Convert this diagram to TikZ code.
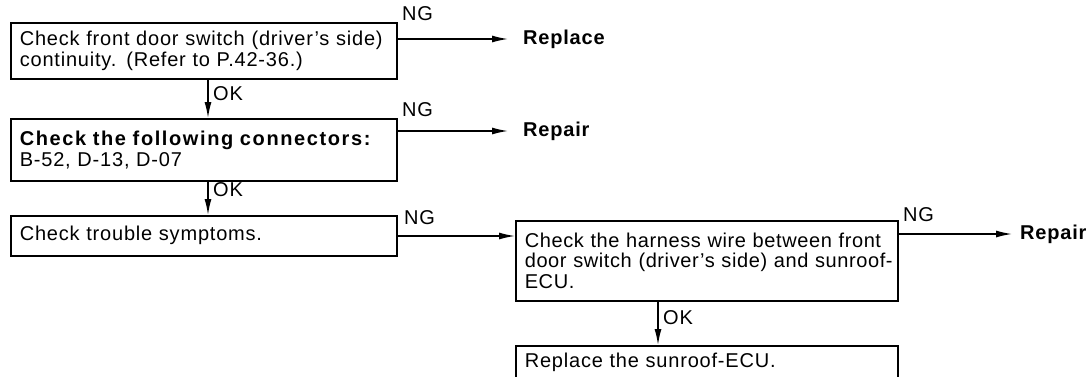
\documentclass[tikz,border=0pt]{standalone}
\usepackage{fontspec}
\setmainfont{Liberation Sans}[LetterSpace=4]
\usetikzlibrary{arrows.meta}
\begin{document}
\begin{tikzpicture}[x=1pt,y=-1pt,
  every node/.style={font=\fontsize{20}{20.5}\selectfont},
  box/.style={draw, line width=1.6pt, rectangle, anchor=north west, align=left, inner xsep=9pt, inner ysep=0pt},
  arr/.style={line width=1.4pt, -{Latex[length=16pt,width=7pt]}},
  lbl/.style={inner sep=0pt},
  res/.style={inner sep=0pt, anchor=west, font=\fontsize{20}{20.5}\selectfont\bfseries}]
\useasboundingbox (0,0) rectangle (1091,376);
\clip (0,0) rectangle (1091,376);

\node[box, minimum width=386pt, minimum height=56pt, text width=368pt] (b1) at (10,22)
  {\mbox{Check front door switch (driver's side)}\\\mbox{continuity. (Refer to P.42-36.)}};
\node[box, minimum width=386pt, minimum height=62pt, text width=368pt] (b2) at (10,118)
  {\mbox{\bfseries\addfontfeature{LetterSpace=8}Check the following connectors:}\\\mbox{B-52, D-13, D-07}};
\node[box, minimum width=386pt, minimum height=40pt, text width=368pt] (b3) at (10,215)
  {\mbox{Check trouble symptoms.}};
\node[box, minimum width=382pt, minimum height=80pt, text width=364pt, font=\fontsize{20}{20.5}\selectfont\addfontfeature{LetterSpace=3}] (b4) at (515,220)
  {\mbox{Check the harness wire between front}\\\mbox{door switch (driver's side) and sunroof-}\\\mbox{ECU.}};
\node[box, minimum width=382pt, minimum height=34pt, text width=364pt] (b5) at (515,345)
  {\mbox{Replace the sunroof-ECU.}};

\node[res] (rep1) at (523,39) {Replace};
\node[res] (rep2) at (523,131) {Repair};
\node[res] (rep3) at (1020,234) {Repair};

% OK arrows
\draw[arr] ([xshift=198pt]b1.south west) -- ([xshift=198pt]b2.north west);
\draw[arr] ([xshift=198pt]b2.south west) -- ([xshift=198pt]b3.north west);
\draw[arr] ([xshift=143pt]b4.south west) -- ([xshift=143pt]b5.north west);
\node[lbl, anchor=west] (ok1) at (213,94) {OK};
\node[lbl, anchor=west] (ok2) at (213,190) {OK};
\node[lbl, anchor=west] (ok3) at (663,318) {OK};

% NG arrows
\draw[arr] ([yshift=-17pt]b1.north east) -- ([xshift=-15pt]rep1.west);
\draw[arr] ([yshift=-13pt]b2.north east) -- ([xshift=-15pt]rep2.west);
\draw[arr] ([yshift=-21pt]b3.north east) -- ([yshift=-16pt]b4.north west);
\draw[arr] ([yshift=-14pt]b4.north east) -- ([xshift=-8pt]rep3.west);
\node[lbl, anchor=south west] (ng1) at (402,21) {NG};
\node[lbl, anchor=south west] (ng2) at (402,117) {NG};
\node[lbl, anchor=south west] (ng3) at (404,225) {NG};
\node[lbl, anchor=south west] (ng4) at (903,222) {NG};
\end{tikzpicture}
\end{document}
